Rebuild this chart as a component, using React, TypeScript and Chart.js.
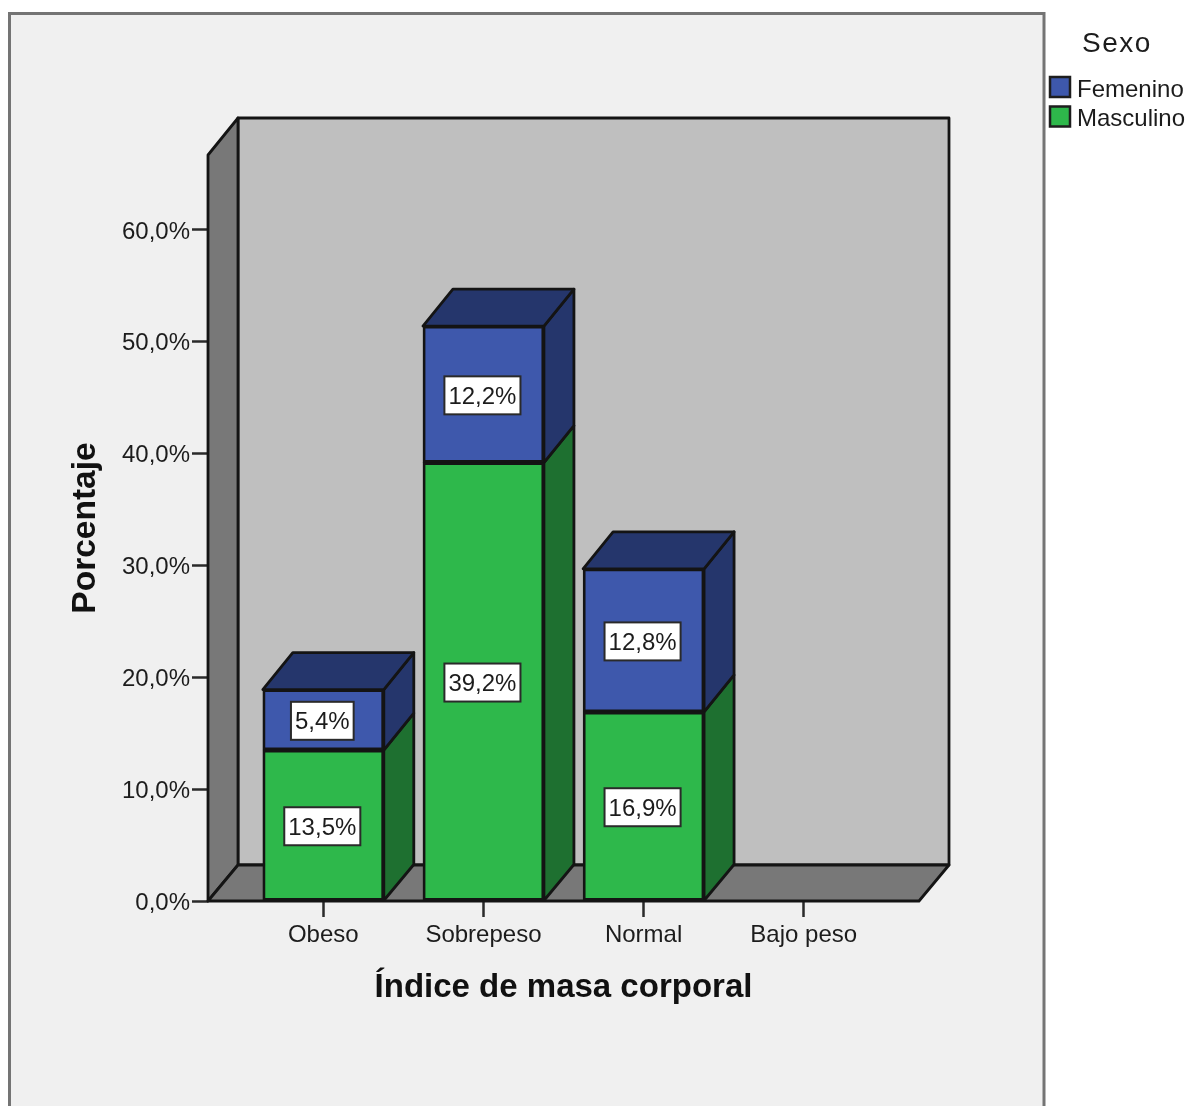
import React, { useEffect, useRef } from "react";
import { Chart, registerables } from "chart.js";

Chart.register(...registerables);

const categories = ["Obeso", "Sobrepeso", "Normal", "Bajo peso"];
const masculino = [13.5, 39.2, 16.9, null];
const femenino = [5.4, 12.2, 12.8, null];
const yTicks = [0, 10, 20, 30, 40, 50, 60];

const FONT = '"Liberation Sans", Arial, sans-serif';
const INK = "#1c1c1c";
const EDGE = "#141414";
const DEPTH_X = 30;
const DEPTH_Y = 37;
const pct = (v: number) => `${v.toFixed(1).replace(".", ",")}%`;

const faces: Record<string, { front: string; side: string }> = {
  Masculino: { front: "#2eb84b", side: "#1e7030" },
  Femenino: { front: "#3e58ac", side: "#25366c" },
};

function poly(ctx: CanvasRenderingContext2D, pts: number[][], fill: string, width = 2.8) {
  ctx.beginPath();
  pts.forEach(([x, y], i) => (i ? ctx.lineTo(x, y) : ctx.moveTo(x, y)));
  ctx.closePath();
  ctx.fillStyle = fill;
  ctx.fill();
  ctx.lineWidth = width;
  ctx.lineJoin = "round";
  ctx.strokeStyle = EDGE;
  ctx.stroke();
}

// Panel behind the chart, extending below the bottom of the canvas.
const panelPlugin = {
  id: "panel",
  beforeDraw(chart: any) {
    const { ctx } = chart;
    ctx.save();
    ctx.fillStyle = "#f0f0f0";
    ctx.strokeStyle = "#747474";
    ctx.lineWidth = 3;
    ctx.beginPath();
    ctx.rect(9.5, 13.5, 1034.5, chart.height + 20);
    ctx.fill();
    ctx.stroke();
    ctx.restore();
  },
};

// Box walls plus the side and top faces of the stacked columns.
const depthPlugin = {
  id: "depth",
  beforeDatasetsDraw(chart: any) {
    const { ctx, chartArea: a } = chart;
    const bx = a.left + DEPTH_X;
    const by = a.top - DEPTH_Y;
    const fy = a.bottom - 36;
    ctx.save();
    poly(ctx, [[bx, by], [a.right + DEPTH_X, by], [a.right + DEPTH_X, fy], [bx, fy]], "#bfbfbf");
    poly(ctx, [[a.left, a.top], [bx, by], [bx, fy], [a.left, a.bottom]], "#787878");
    poly(ctx, [[a.left, a.bottom], [bx, fy], [a.right + DEPTH_X, fy], [a.right, a.bottom]], "#787878");

    const last = chart.data.datasets.length - 1;
    chart.data.datasets.forEach((ds: any, di: number) => {
      chart.getDatasetMeta(di).data.forEach((bar: any, i: number) => {
        if (ds.data[i].y == null) return;
        const right = bar.x + bar.width / 2;
        const left = bar.x - bar.width / 2;
        const { side } = faces[ds.label];
        const dyBase = di === 0 ? 36 : DEPTH_Y;
        poly(ctx, [[right, bar.y], [right + DEPTH_X, bar.y - DEPTH_Y], [right + DEPTH_X, bar.base - dyBase], [right, bar.base]], side);
        if (di === last) {
          poly(ctx, [[left, bar.y], [left + DEPTH_X, bar.y - DEPTH_Y], [right + DEPTH_X, bar.y - DEPTH_Y], [right, bar.y]], side);
        }
      });
    });
    ctx.restore();
  },
  // White value boxes in the middle of each segment.
  afterDatasetsDraw(chart: any) {
    const { ctx } = chart;
    ctx.save();
    ctx.font = `24px ${FONT}`;
    ctx.textAlign = "center";
    ctx.textBaseline = "middle";
    chart.data.datasets.forEach((ds: any, di: number) => {
      chart.getDatasetMeta(di).data.forEach((bar: any, i: number) => {
        const v = ds.data[i].y;
        if (v == null) return;
        const text = pct(v);
        const w = ctx.measureText(text).width + 8;
        const h = 38;
        const cy = (bar.y + bar.base) / 2 + 1;
        ctx.fillStyle = "#ffffff";
        ctx.strokeStyle = "#2a2a2a";
        ctx.lineWidth = 2;
        ctx.fillRect(bar.x - w / 2 - 1, cy - h / 2, w, h);
        ctx.strokeRect(bar.x - w / 2 - 1, cy - h / 2, w, h);
        ctx.fillStyle = INK;
        ctx.fillText(text, bar.x - 1, cy + 2);
      });
    });
    ctx.restore();
  },
};

// Legend column to the right of the panel.
const legendPlugin = {
  id: "sideLegend",
  afterDraw(chart: any) {
    const { ctx } = chart;
    const rows = [...chart.data.datasets].reverse();
    ctx.save();
    ctx.textBaseline = "middle";
    ctx.fillStyle = INK;
    ctx.font = `28px ${FONT}`;
    ctx.letterSpacing = "1.5px";
    ctx.textAlign = "center";
    ctx.fillText("Sexo", 1117, 44);
    ctx.letterSpacing = "0px";
    ctx.textAlign = "left";
    ctx.font = `24px ${FONT}`;
    rows.forEach((ds: any, i: number) => {
      const y = 77 + i * 29.5;
      ctx.fillStyle = faces[ds.label].front;
      ctx.strokeStyle = "#1e1e1e";
      ctx.lineWidth = 2.5;
      ctx.fillRect(1050, y, 20, 20);
      ctx.strokeRect(1050, y, 20, 20);
      ctx.fillStyle = INK;
      ctx.fillText(ds.label, 1077, y + 13);
    });
    ctx.restore();
  },
};

export default function App() {
  const ref = useRef<HTMLCanvasElement>(null);

  useEffect(() => {
    const toPoints = (vals: (number | null)[]) => vals.map((y, x) => ({ x, y }));
    const bar = (label: string, vals: (number | null)[]) => ({
      label,
      data: toPoints(vals),
      backgroundColor: faces[label].front,
      borderColor: EDGE,
      borderWidth: 2.8,
      borderSkipped: false,
      barThickness: 121,
    });

    const chart = new Chart(ref.current!, {
      type: "bar",
      data: { datasets: [bar("Masculino", masculino), bar("Femenino", femenino)] as any },
      options: {
        responsive: false,
        animation: false,
        events: [],
        layout: { padding: { left: 66, top: 155, right: 269, bottom: 98 } },
        plugins: { legend: { display: false }, tooltip: { enabled: false } },
        scales: {
          x: {
            type: "linear",
            stacked: true,
            offset: false,
            min: -0.72,
            max: 3.72,
            afterBuildTicks: (s: any) => {
              s.ticks = categories.map((_, value) => ({ value }));
            },
            afterFit: (s: any) => {
              s.height = 107;
            },
            border: { display: false },
            grid: { offset: false, drawOnChartArea: false, tickLength: 16, tickColor: "#2a2a2a", tickWidth: 2.5 },
            ticks: {
              autoSkip: false,
              maxRotation: 0,
              padding: 4,
              color: INK,
              font: { family: FONT, size: 24 },
              callback: (v: any) => categories[v],
            },
            title: {
              display: true,
              text: "Índice de masa corporal",
              color: "#111111",
              font: { family: FONT, size: 33, weight: "bold" },
              padding: { top: 0, bottom: 0 },
            },
          },
          y: {
            stacked: true,
            min: 0,
            max: 66.7,
            afterBuildTicks: (s: any) => {
              s.ticks = yTicks.map((value) => ({ value }));
            },
            afterFit: (s: any) => {
              s.width = 142;
            },
            border: { display: false },
            grid: { drawOnChartArea: false, tickLength: 16, tickColor: "#2a2a2a", tickWidth: 2.5 },
            ticks: {
              padding: 2,
              labelOffset: 2,
              color: INK,
              font: { family: FONT, size: 24 },
              callback: (v: any) => pct(Number(v)),
            },
            title: {
              display: true,
              text: "Porcentaje",
              color: "#111111",
              font: { family: FONT, size: 33.5, weight: "bold" },
              padding: { top: 0, bottom: 0 },
            },
          },
        },
      } as any,
      plugins: [panelPlugin, depthPlugin, legendPlugin],
    });
    return () => chart.destroy();
  }, []);

  return (
    <canvas
      ref={ref}
      width={1188}
      height={1106}
      style={{ position: "absolute", left: 0, top: 0, display: "block" }}
    />
  );
}
